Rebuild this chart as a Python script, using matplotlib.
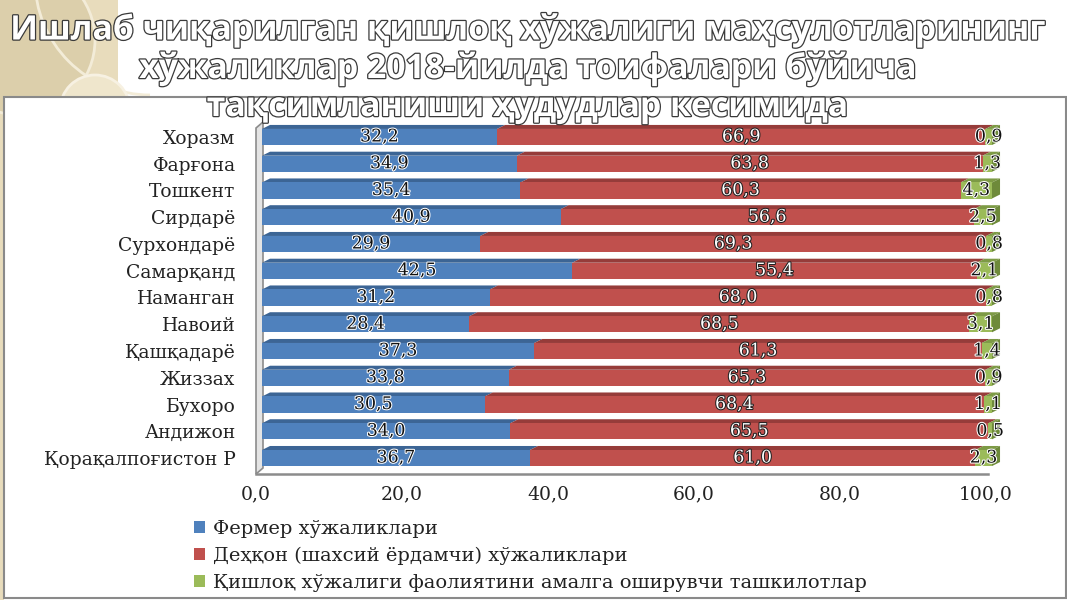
import matplotlib.pyplot as plt
import matplotlib.patheffects as pe
from matplotlib.patches import Polygon, Rectangle, Circle, Arc
from matplotlib.transforms import ScaledTranslation

# data (top to bottom as in the picture)
regions = ['Хоразм', 'Фарғона', 'Тошкент', 'Сирдарё', 'Сурхондарё', 'Самарқанд',
           'Наманган', 'Навоий', 'Қашқадарё', 'Жиззах', 'Бухоро', 'Андижон',
           'Қорақалпоғистон Р']
fermer = [32.2, 34.9, 35.4, 40.9, 29.9, 42.5, 31.2, 28.4, 37.3, 33.8, 30.5, 34.0, 36.7]
dehqon = [66.9, 63.8, 60.3, 56.6, 69.3, 55.4, 68.0, 68.5, 61.3, 65.3, 68.4, 65.5, 61.0]
tashkilot = [0.9, 1.3, 4.3, 2.5, 0.8, 2.1, 0.8, 3.1, 1.4, 0.9, 1.1, 0.5, 2.3]
series_names = ['Фермер хўжаликлари',
                'Деҳқон (шахсий ёрдамчи) хўжаликлари',
                'Қишлоқ хўжалиги фаолиятини амалга оширувчи ташкилотлар']
xticks = [0, 20, 40, 60, 80, 100]
title_lines = ['Ишлаб чиқарилган қишлоқ хўжалиги маҳсулотларининг',
               'хўжаликлар 2018-йилда тоифалари бўйича',
               'тақсимланиши ҳудудлар кесимида']

colors = ['#4F81BD', '#C0504D', '#9BBB59']
top_colors = ['#3C6595', '#963C3A', '#7D9A45']
side_color = '#6E8A3A'
serif = 'DejaVu Serif'

W, H = 1067, 600
fig = plt.figure(figsize=(W / 100, H / 100), dpi=100)
fig.patch.set_facecolor('white')

# background overlay in pixel coords
bg = fig.add_axes([0, 0, 1, 1], zorder=0)
bg.set_xlim(0, W)
bg.set_ylim(H, 0)
bg.axis('off')
bg.add_patch(Rectangle((0, 0), 118, 100, color='#E8DCBC', lw=0))
bg.add_patch(Rectangle((0, 0), 4, H, color='#E8DCBC', lw=0))
bg.add_patch(Circle((20, 40), 75, facecolor='#DCCFAB', edgecolor='#F3ECD8', lw=2))
bg.add_patch(Arc((150, -20), 230, 230, theta1=90, theta2=270, color='#F3ECD8', lw=2))
bg.add_patch(Circle((95, 110), 35, facecolor='#EFE6CC', edgecolor='#F7F1E2', lw=2))
# chart box
bg.add_patch(Rectangle((4, 97), W - 5, H - 99, facecolor='white', edgecolor='#8A8A8A', lw=1.5))
# 3D wall and floor
bg.add_patch(Polygon([(256, 128), (263, 122), (263, 468), (256, 474)],
                     facecolor='#E4E4E4', edgecolor='#8C8C8C', lw=1.2))
bg.plot([256, 988], [474, 474], color='#8C8C8C', lw=1.8)

# main bar axes
ax = fig.add_axes([262 / W, 1 - 471.4 / H, 730 / W, 347.8 / H], zorder=2)
ax.patch.set_alpha(0)
n = len(regions)
ypos = list(range(n))[::-1]
h = 0.6
dx, dy = 1.1, 0.15

lefts = [0.0] * n
for s, vals in enumerate([fermer, dehqon, tashkilot]):
    ax.barh(ypos, vals, left=lefts, height=h, color=colors[s], label=series_names[s], zorder=2)
    for i in range(n):
        l, w, y = lefts[i], vals[i], ypos[i]
        ax.add_patch(Polygon([(l, y + h / 2), (l + w, y + h / 2),
                              (l + w + dx, y + h / 2 + dy), (l + dx, y + h / 2 + dy)],
                             facecolor=top_colors[s], lw=0, zorder=1, clip_on=False))
        if s == 2:
            ax.add_patch(Polygon([(l + w, y - h / 2), (l + w + dx, y - h / 2 + dy),
                                  (l + w + dx, y + h / 2 + dy), (l + w, y + h / 2)],
                                 facecolor=side_color, lw=0, zorder=1, clip_on=False))
        lab = f'{w:.1f}'.replace('.', ',')
        if s == 1:
            tc, sc = 'white', '#222222'
        else:
            tc, sc = '#111111', 'white'
        ax.text(l + w / 2, y, lab, ha='center', va='center', fontsize=12.5,
                family=serif, color=tc, zorder=5, clip_on=False,
                path_effects=[pe.withStroke(linewidth=1.5, foreground=sc)])
    lefts = [lefts[i] + vals[i] for i in range(n)]

ax.set_xlim(0, 100)
ax.set_ylim(-0.5, n - 0.5)
ax.set_yticks(ypos)
ax.set_yticklabels(regions, family=serif, fontsize=13.5, color='#222222')
ax.set_xticks(xticks)
ax.set_xticklabels([f'{v:.1f}'.replace('.', ',') for v in xticks],
                   family=serif, fontsize=13.5, color='#222222')
ax.tick_params(axis='y', length=0, pad=19)
ax.tick_params(axis='x', length=0, pad=10)
for sp in ax.spines.values():
    sp.set_visible(False)
off = ScaledTranslation(-6 / 100, 0, fig.dpi_scale_trans)
for t in ax.xaxis.get_major_ticks():
    t.label1.set_transform(t.label1.get_transform() + off)

leg = fig.legend(handles=ax.containers, labels=series_names, loc='upper left',
                 bbox_to_anchor=(186 / W, 1 - 512 / H), frameon=False,
                 prop={'family': serif, 'size': 14},
                 handlelength=0.6, handleheight=0.6, handletextpad=0.4,
                 labelspacing=0.45, borderaxespad=0)
for t in leg.get_texts():
    t.set_color('#222222')

# title: white letters with dark outline
for k, line in enumerate(title_lines):
    fig.text(527 / W, 1 - (30 + 38.5 * k) / H, line, ha='center', va='center',
             family='Open Sans', weight='bold', fontsize=24.3, color='white', zorder=10,
             path_effects=[pe.withStroke(linewidth=1.8, foreground='#3A3A3A')])

fig.savefig('out.png', dpi=100)
